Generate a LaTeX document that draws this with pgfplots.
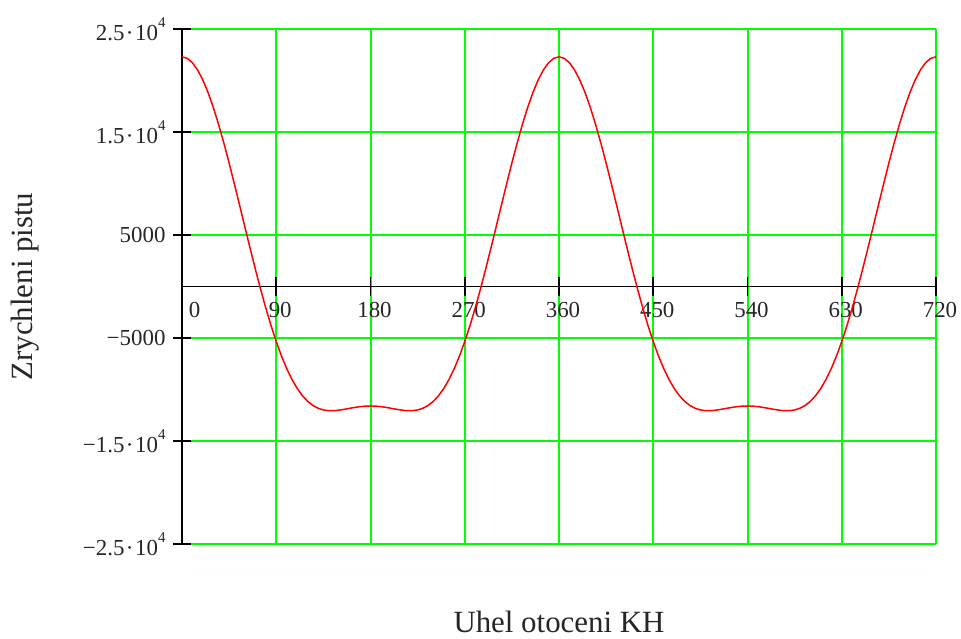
\documentclass[border=0pt]{standalone}
\usepackage{fontspec}
\setmainfont{Liberation Serif}
\usepackage{pgfplots}
\pgfplotsset{compat=1.18}
\definecolor{mcgreen}{RGB}{0,255,0}
\newcommand{\ex}[1]{\raisebox{0.55em}{\fontsize{15}{15}\selectfont #1}}
\newcommand{\cd}{\kern1.5bp·\kern1.5bp}
\begin{document}
\begin{tikzpicture}
\useasboundingbox (-182bp,-95bp) rectangle (779bp,544bp);
\begin{axis}[
 at={(0,0)}, anchor=south west, scale only axis, width=754bp, height=515bp,
 xmin=0, xmax=720, ymin=-25000, ymax=25000,
 axis x line=middle, axis y line=left,
 axis line style={black, line width=1.8bp, -},
 xtick={0,90,180,270,360,450,540,630,720},
 xticklabels={\makebox[0pt][l]{\hspace{3bp}0},90,180,270,360,450,540,630,720},
 ytick={-25000,-15000,-5000,5000,15000,25000},
 yticklabels={−2.5\cd10\ex{4},−1.5\cd10\ex{4},−5000,5000,1.5\cd10\ex{4},2.5\cd10\ex{4}},
 scaled y ticks=false, scaled x ticks=false,
 hide obscured x ticks=false, hide obscured y ticks=false,
 tick align=center, major tick length=18bp,
 tick style={black, line width=1.8bp},
 grid=major, major grid style={mcgreen, line width=2bp},
 tick label style={font=\fontsize{23}{27}\selectfont, text=black!85},
 xticklabel style={anchor=north, xshift=4bp, yshift=-3bp},
 yticklabel style={xshift=-4bp},
 every axis x label/.style={at={(axis description cs:0.5,-0.152)}, anchor=center},
 every axis y label/.style={at={(axis description cs:-0.208,0.5)}, anchor=center, rotate=90},
 label style={font=\fontsize{31}{36}\selectfont, text=black!85},
 xlabel={Uhel otoceni KH}, ylabel={Zrychleni pistu},
 clip=false,
]
\addplot[red, line width=1.5bp, mark=none] table {
x y
0 22299
5 22153
10 21719
15 21005
20 20026
25 18800
30 17354
35 15714
40 13913
45 11986
50 9966
55 7893
60 5800
65 3725
70 1699
75 -246
80 -2083
85 -3791
90 -5349
95 -6746
100 -7970
105 -9020
110 -9895
115 -10602
120 -11150
125 -11552
130 -11824
135 -11986
140 -12056
145 -12055
150 -12005
155 -11923
160 -11830
165 -11740
170 -11666
175 -11617
180 -11601
185 -11617
190 -11666
195 -11740
200 -11830
205 -11923
210 -12005
215 -12055
220 -12056
225 -11986
230 -11824
235 -11552
240 -11150
245 -10602
250 -9895
255 -9020
260 -7970
265 -6746
270 -5349
275 -3791
280 -2083
285 -246
290 1699
295 3725
300 5800
305 7893
310 9966
315 11986
320 13913
325 15714
330 17354
335 18800
340 20026
345 21005
350 21719
355 22153
360 22299
365 22153
370 21719
375 21005
380 20026
385 18800
390 17354
395 15714
400 13913
405 11986
410 9966
415 7893
420 5800
425 3725
430 1699
435 -246
440 -2083
445 -3791
450 -5349
455 -6746
460 -7970
465 -9020
470 -9895
475 -10602
480 -11150
485 -11552
490 -11824
495 -11986
500 -12056
505 -12055
510 -12005
515 -11923
520 -11830
525 -11740
530 -11666
535 -11617
540 -11601
545 -11617
550 -11666
555 -11740
560 -11830
565 -11923
570 -12005
575 -12055
580 -12056
585 -11986
590 -11824
595 -11552
600 -11150
605 -10602
610 -9895
615 -9020
620 -7970
625 -6746
630 -5349
635 -3791
640 -2083
645 -246
650 1699
655 3725
660 5800
665 7893
670 9966
675 11986
680 13913
685 15714
690 17354
695 18800
700 20026
705 21005
710 21719
715 22153
720 22299
};
\end{axis}
\end{tikzpicture}
\end{document}
